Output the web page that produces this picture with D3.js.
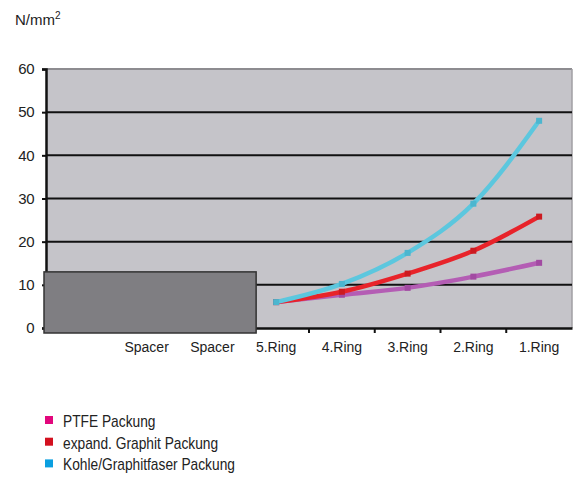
<!DOCTYPE html>
<html>
<head>
<meta charset="utf-8">
<script src="https://cdn.jsdelivr.net/npm/d3@7"></script>
<style>
  html, body { margin: 0; padding: 0; background: #fff; }
  svg { display: block; }
</style>
</head>
<body>
<svg id="chart" width="573" height="477"></svg>
<script>
// Category labels along the x axis (first slot is left empty)
const categories = ["", "Spacer", "Spacer", "5.Ring", "4.Ring", "3.Ring", "2.Ring", "1.Ring"];
// Ring positions for the pressure curves
const rings = ["5.Ring", "4.Ring", "3.Ring", "2.Ring", "1.Ring"];
// Surface pressure in N/mm² per packing ring
const ptfe = [6, 7.7, 9.3, 11.9, 15.1];
const graphit = [6, 8.4, 12.6, 17.9, 25.8];
const kohle = [6, 10.2, 17.4, 28.8, 48];
// Spacer block height
const spacerValue = 13;
// Y axis ticks
const yTicks = [0, 10, 20, 30, 40, 50, 60];
// Legend entries
const legendLabels = ["PTFE Packung", "expand. Graphit Packung", "Kohle/Graphitfaser Packung"];
const legendColors = ["#e2077c", "#d3101f", "#0a9fe0"];
const lineColors = ["#b45db4", "#e8232a", "#5cc7de"];
const markerColors = ["#a24aa2", "#cc1a20", "#4cb6cf"];

const svg = d3.select("#chart");
const plotLeft = 46, plotRight = 572, plotTop = 69, plotBottom = 328;

const x = d3.scaleBand().domain(d3.range(categories.length)).range([plotLeft, plotRight]).padding(0);
const y = d3.scaleLinear().domain([0, 60]).range([plotBottom, plotTop]);
const xc = name => x(categories.lastIndexOf(name)) + x.bandwidth() / 2;

// plot background
svg.append("rect")
  .attr("x", plotLeft).attr("y", plotTop)
  .attr("width", plotRight - plotLeft).attr("height", plotBottom - plotTop)
  .attr("fill", "#c5c4c9");

// top and right border
svg.append("line").attr("x1", plotLeft).attr("x2", plotRight).attr("y1", y(60)).attr("y2", y(60))
  .attr("stroke", "#8d8c90").attr("stroke-width", 2);
svg.append("line").attr("x1", plotRight).attr("x2", plotRight).attr("y1", plotTop).attr("y2", plotBottom)
  .attr("stroke", "#a09fa3").attr("stroke-width", 1.5);

// gridlines
svg.append("g").selectAll("line")
  .data(yTicks.filter(d => d > 0 && d < 60))
  .join("line")
  .attr("x1", plotLeft).attr("x2", plotRight)
  .attr("y1", d => y(d)).attr("y2", d => y(d))
  .attr("stroke", "#111").attr("stroke-width", 2);

// y axis
const yAxis = d3.axisLeft(y).tickValues(yTicks).tickSize(4).tickPadding(8);
const gy = svg.append("g").attr("transform", `translate(${plotLeft},0)`).call(yAxis);
gy.select(".domain").attr("stroke", "#111").attr("stroke-width", 2.5);
gy.selectAll(".tick line").attr("stroke", "#111").attr("stroke-width", 2);
gy.selectAll(".tick text")
  .attr("font-family", "Liberation Sans, Arial, sans-serif")
  .attr("font-size", 15).attr("fill", "#222").attr("letter-spacing", "-0.5");

// x axis
const xAxis = d3.axisBottom(x).tickFormat(i => categories[i]).tickSize(0).tickPadding(14);
const gx = svg.append("g").attr("transform", `translate(0,${plotBottom})`).call(xAxis);
gx.select(".domain").attr("stroke", "#111").attr("stroke-width", 2.5);
gx.selectAll(".tick text")
  .attr("font-family", "Liberation Sans, Arial, sans-serif")
  .attr("font-size", 14).attr("fill", "#222")
  .attr("dx", (d, i) => categories[i] === "Spacer" ? 2 : 0);
// boundary ticks between categories
svg.append("g").selectAll("line")
  .data(d3.range(1, categories.length))
  .join("line")
  .attr("x1", i => x(i)).attr("x2", i => x(i))
  .attr("y1", plotBottom).attr("y2", plotBottom + 5)
  .attr("stroke", "#111").attr("stroke-width", 2);

// spacer block
const spacerX0 = x(0) - 2;
const spacerX1 = xc("5.Ring") - 20;
svg.append("rect")
  .attr("x", spacerX0).attr("y", y(spacerValue))
  .attr("width", spacerX1 - spacerX0).attr("height", y(0) - y(spacerValue) + 5)
  .attr("fill", "#7f7e82").attr("stroke", "#333").attr("stroke-width", 1.5);

// pressure curves
const series = [ptfe, graphit, kohle];
const line = d3.line()
  .x((d, i) => xc(rings[i]))
  .y(d => y(d))
  .curve(d3.curveMonotoneX);

series.forEach((vals, s) => {
  svg.append("path")
    .datum(vals)
    .attr("d", line)
    .attr("fill", "none")
    .attr("stroke", lineColors[s])
    .attr("stroke-width", 4.5)
    .attr("stroke-linecap", "round");
  svg.append("g").selectAll("rect")
    .data(vals)
    .join("rect")
    .attr("x", (d, i) => xc(rings[i]) - 3)
    .attr("y", d => y(d) - 3)
    .attr("width", 6).attr("height", 6)
    .attr("fill", markerColors[s]);
});

// unit label
const unit = svg.append("text")
  .attr("x", 15).attr("y", 25)
  .attr("font-family", "Liberation Sans, Arial, sans-serif")
  .attr("font-size", 15).attr("fill", "#222");
unit.append("tspan").text("N/mm");
unit.append("tspan").attr("dy", -6).attr("font-size", 10).text("2");

// legend (condensed lettering)
const legend = svg.append("g").attr("transform", "translate(45,416)");
legendLabels.forEach((label, i) => {
  const row = legend.append("g").attr("transform", `translate(0,${i * 21.7})`);
  row.append("rect").attr("width", 8).attr("height", 8).attr("fill", legendColors[i]);
  row.append("text")
    .attr("transform", "translate(18,11) scale(0.86,1)")
    .attr("font-family", "Liberation Sans, Arial, sans-serif")
    .attr("font-size", 16).attr("fill", "#222")
    .text(label);
});
</script>
</body>
</html>
